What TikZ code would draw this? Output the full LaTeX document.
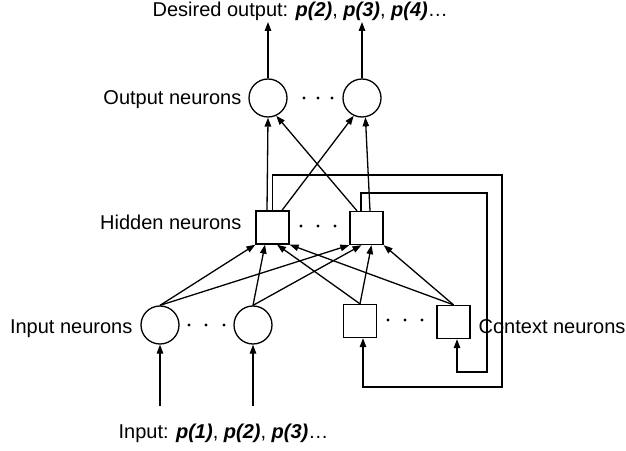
\documentclass[tikz,border=0pt]{standalone}
\usepackage{fontspec}
\setmainfont{Liberation Sans}
\usetikzlibrary{arrows.meta}

\begin{document}
\begin{tikzpicture}[x=1pt,y=1pt,line width=1.3pt,>={Triangle[length=9pt,width=6.5pt]},
  font=\fontsize{20}{24}\selectfont,
  neuron/.style={circle,draw,minimum size=38pt,inner sep=0pt},
  unit/.style={rectangle,draw,minimum size=33pt,inner sep=0pt},
  tag/.style={inner sep=0pt}]
\useasboundingbox (0,0) rectangle (626,450);

% output layer
\node[neuron] (O1) at (268,352) {};
\node[neuron] (O2) at (362,352) {};
\node[tag,anchor=base east] (OL) at (242,345) {Output neurons};
\node[tag,anchor=base west] (DO) at (152,433) {Desired output: \textbf{\textit{p(2)}}, \textbf{\textit{p(3)}}, \textbf{\textit{p(4)}}…};
\coordinate (D1) at (268,428);
\coordinate (D2) at (362,428);
\draw[->] (O1) -- (D1);
\draw[->] (O2) -- (D2);

% hidden layer
\node[unit] (H1) at (272.5,222.5) {};
\node[unit] (H2) at (366.5,222) {};
\node[tag,anchor=base east] (HL) at (242,220) {Hidden neurons};

% input and context layers
\node[neuron] (I1) at (160,125) {};
\node[neuron] (I2) at (253,125) {};
\node[tag,anchor=base east] (IL) at (133,117) {Input neurons};
\node[unit] (C1) at (360,129) {};
\node[unit] (C2) at (453.5,128) {};
\node[tag,anchor=base west] (CL) at (478,117) {Context neurons};
\node[tag,anchor=base west] (IN) at (118,12) {Input: \textbf{\textit{p(1)}}, \textbf{\textit{p(2)}}, \textbf{\textit{p(3)}}…};
\coordinate (S1) at (160,44);
\coordinate (S2) at (253,44);
\draw[->] (S1) -- (I1);
\draw[->] (S2) -- (I2);

% dots between units
\foreach \x in {304,318,332} \fill (\x,352) circle (1.6pt);
\foreach \x in {301,318,335} \fill (\x,224) circle (1.6pt);
\foreach \x in {189,206,224} \fill (\x,125) circle (1.6pt);
\foreach \x in {388,405,422} \fill (\x,130) circle (1.6pt);

% hidden to output
\draw[->] ([xshift=-5.5pt]H1.north) -- (O1.south);
\draw[->] ([xshift=9.5pt]H1.north) -- (O2.-115);
\draw[->] ([xshift=-9.5pt]H2.north) -- (O1.-65);
\draw[->] ([xshift=3.5pt]H2.north) -- (O2.-80);

% input and context to hidden
\draw[->] (I1.north) -- (H1.south west);
\draw[->] (I2.north) -- ([xshift=-7.5pt]H1.south);
\draw[->] (C1.north) -- ([xshift=4.5pt]H1.south);
\draw[->] (C2.north) -- (H1.south east);
\draw[->] (I1.north) -- (H2.south west);
\draw[->] (I2.north) -- ([xshift=-5pt]H2.south);
\draw[->] (C1.north) -- ([xshift=5pt]H2.south);
\draw[->] (C2.north) -- (H2.south east);

% copy back to context
\draw[->] (H1.north) |- (502,275) |- (363,63) -- ([xshift=3pt]C1.south);
\draw[->] ([xshift=-5.5pt]H2.north) |- (487,257) |- (457,78) -- ([xshift=3.5pt]C2.south);
\end{tikzpicture}
\end{document}
